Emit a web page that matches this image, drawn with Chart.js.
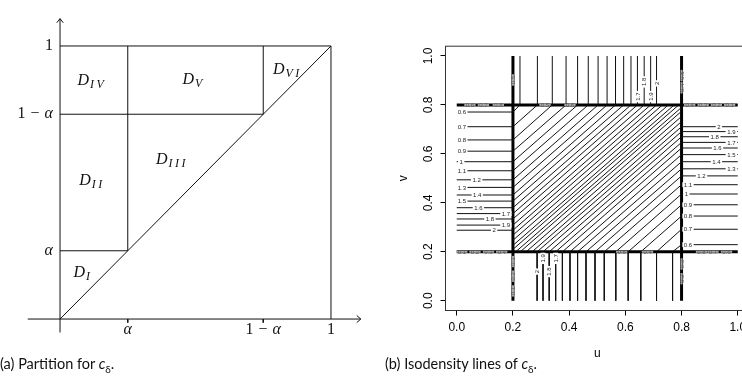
<!DOCTYPE html>
<html lang="en">
<head>
<meta charset="UTF-8">
<title>Partition and isodensity lines of c_delta</title>
<script src="https://cdn.jsdelivr.net/npm/chart.js"></script>
<style>
  html, body { margin: 0; padding: 0; overflow: hidden; background: #fff; }
  body { width: 742px; height: 384px; position: relative; }
  .panel { position: absolute; top: 0; height: 384px; }
  #left { left: 0; width: 371px; }
  #right { left: 371px; width: 400px; }
  .caption { position: absolute; top: 355px; font-family: Lato, sans-serif; font-size: 14.5px; color: #111; white-space: nowrap; }
  .caption sub { font-size: 10px; }
</style>
</head>
<body>
<div class="panel" id="left"><canvas id="partChart"></canvas></div>
<div class="panel" id="right"><canvas id="isoChart"></canvas></div>
<div class="caption" style="left:0">(a) Partition for <i>c</i><sub>δ</sub>.</div>
<div class="caption" style="left:385px">(b) Isodensity lines of <i>c</i><sub>δ</sub>.</div>
<script>
// ---- (a) partition ----
const alpha = 0.25;
const cuts = [0, alpha, 1 - alpha, 1];
const cutLabels = ['α', '1 − α', '1'];
const regionNames = ['I', 'II', 'III', 'IV', 'V', 'VI'];
const regionU = [0.085, 0.118, 0.413, 0.118, 0.493, 0.839];
const regionV = [0.168, 0.504, 0.582, 0.870, 0.874, 0.912];

// ---- (b) isodensity lines ----
const levels = [0.6, 0.7, 0.8, 0.9, 1, 1.1, 1.2, 1.3, 1.4, 1.5, 1.6, 1.7, 1.8, 1.9, 2];
// left strip (u < 0.2): horizontal lines, v of each level
const leftV = [0.771, 0.711, 0.657, 0.611, 0.568, 0.531, 0.494, 0.463, 0.432, 0.407, 0.380, 0.356, 0.334, 0.309, 0.288];
// top strip (v > 0.8): vertical lines, u of each level
const topU = [0.225, 0.287, 0.340, 0.389, 0.430, 0.468, 0.503, 0.535, 0.565, 0.594, 0.620, 0.643, 0.667, 0.690, 0.711];
// right strip (u > 0.8): horizontal lines
const rightV = [0.229, 0.292, 0.346, 0.392, 0.436, 0.474, 0.510, 0.539, 0.568, 0.597, 0.624, 0.647, 0.670, 0.691, 0.711];
// bottom strip (v < 0.2): vertical lines
const bottomU = [0.768, 0.711, 0.655, 0.610, 0.566, 0.525, 0.492, 0.460, 0.430, 0.403, 0.376, 0.352, 0.329, 0.307, 0.286];
// where the labels sit on the strips
const leftLabelU = [0.018, 0.018, 0.018, 0.018, 0.016, 0.018, 0.071, 0.018, 0.073, 0.018, 0.077, 0.175, 0.118, 0.175, 0.133];
const rightLabelU = [0.823, 0.823, 0.823, 0.823, 0.817, 0.823, 0.871, 0.977, 0.924, 0.977, 0.928, 0.977, 0.918, 0.977, 0.933];
const topLabelLevels = [1.7, 1.8, 1.9, 2];
const topLabelV = [0.834, 0.894, 0.834, 0.888];
const bottomLabelLevels = [2, 1.9, 1.8, 1.7];
const bottomLabelV = [0.119, 0.173, 0.119, 0.173];
// unlabelled lines next to the diagonal inside the square
const innerUpperV = [0.268, 0.247, 0.226, 0.210];
const innerUpperU = [0.732, 0.753, 0.774, 0.790];
const innerLowerV = [0.732, 0.753, 0.774, 0.790];
const innerLowerU = [0.268, 0.247, 0.226, 0.210];
const bounds = [0.2, 0.8];
const axisTicks = [0, 0.2, 0.4, 0.6, 0.8, 1];
// small labels along the thick boundary lines: [text, u, v, rotated]
const edgeLabels = [
  ['0.1', 0.018, 0.2, 0], ['0.2', 0.065, 0.2, 0], ['0.3', 0.113, 0.2, 0], ['0.4', 0.16, 0.2, 0],
  ['0.6', 0.047, 0.8, 0], ['0.7', 0.095, 0.8, 0], ['0.8', 0.148, 0.8, 0],
  ['0.4', 0.829, 0.8, 0], ['0.3', 0.877, 0.8, 0], ['0.2', 0.924, 0.8, 0], ['0.1', 0.971, 0.8, 0],
  ['0.8', 0.871, 0.2, 0], ['0.7', 0.912, 0.2, 0], ['0.6', 0.96, 0.2, 0],
  ['0.5', 0.314, 0.8, 0], ['0.6', 0.403, 0.8, 0],
  ['0.5', 0.587, 0.2, 0], ['0.4', 0.679, 0.2, 0],
  ['0.5', 0.2, 0.902, 1], ['0.5', 0.8, 0.92, 1], ['0.4', 0.8, 0.87, 1],
  ['0.3', 0.2, 0.16, 1], ['0.2', 0.2, 0.10, 1], ['0.1', 0.2, 0.04, 1],
  ['0.3', 0.8, 0.15, 1], ['0.2', 0.8, 0.09, 1]
];

function line(points, width, color) {
  return {
    data: points.map(p => ({x: p[0], y: p[1]})),
    showLine: true, borderColor: color || '#111', borderWidth: width || 1,
    pointRadius: 0, fill: false, tension: 0
  };
}

// ---------- chart (a) ----------
const [c0, ca, cb, c1] = cuts;
const partSets = [
  line([[-0.12, 0], [1.11, 0]]),
  line([[0, -0.05], [0, 1.1]]),
  line([[1.095, 0.013], [1.11, 0], [1.095, -0.013]]),
  line([[-0.012, 1.085], [0, 1.1], [0.012, 1.085]]),
  line([[c0, c1], [c1, c1]]),
  line([[c1, c0], [c1, c1]]),
  line([[c0, c0], [c1, c1]]),
  line([[c0, cb], [cb, cb]]),
  line([[ca, ca], [ca, c1]]),
  line([[c0, ca], [ca, ca]]),
  line([[cb, cb], [cb, c1]]),
  line([[ca, 0], [ca, -0.013]]),
  line([[cb, 0], [cb, -0.013]])
];

const partLabels = {
  id: 'partLabels',
  afterDatasetsDraw(chart) {
    const {ctx, scales: {x, y}} = chart;
    ctx.save();
    ctx.fillStyle = '#111';
    const up = '16px "Liberation Serif"';
    const it = 'italic 16px "Liberation Serif"';
    function mixed(text, px, py, align) {
      // split "1 − α" into pieces with math spacing
      const parts = text.split(' ');
      const gap = 5;
      const widths = parts.map(t => { ctx.font = t === 'α' ? it : up; return ctx.measureText(t).width; });
      const total = widths.reduce((a, b) => a + b, 0) + gap * (parts.length - 1);
      let sx = align === 'right' ? px - total : px - total / 2;
      ctx.textAlign = 'left';
      ctx.textBaseline = 'middle';
      parts.forEach((t, i) => {
        ctx.font = t === 'α' ? it : up;
        ctx.fillText(t, sx, py);
        sx += widths[i] + gap;
      });
    }
    const y0 = y.getPixelForValue(0);
    const x0 = x.getPixelForValue(0);
    cutLabels.forEach((t, i) => {
      mixed(t, x.getPixelForValue(cuts[i + 1]), y0 + 11, 'center');
      mixed(t, x0 - 7, y.getPixelForValue(cuts[i + 1]), 'right');
    });
    regionNames.forEach((n, i) => {
      const px = x.getPixelForValue(regionU[i]);
      const py = y.getPixelForValue(regionV[i]);
      ctx.font = 'italic 16px "Liberation Serif"';
      const wd = ctx.measureText('D').width;
      ctx.font = 'italic 12px "Liberation Serif"';
      ctx.letterSpacing = '2.5px';
      const ws = ctx.measureText(n).width;
      const sx = px - (wd + 1 + ws) / 2;
      ctx.textAlign = 'left';
      ctx.textBaseline = 'alphabetic';
      ctx.fillText(n, sx + wd + 1, py + 6.5);
      ctx.letterSpacing = '0px';
      ctx.font = 'italic 16px "Liberation Serif"';
      ctx.fillText('D', sx, py + 3.5);
    });
    ctx.restore();
  }
};

new Chart(document.getElementById('partChart'), {
  type: 'scatter',
  data: {datasets: partSets},
  options: {
    animation: false, responsive: true, maintainAspectRatio: false,
    layout: {padding: {left: 27.5, right: 7.5, top: 13.2, bottom: 51.3}},
    plugins: {legend: {display: false}, tooltip: {enabled: false}},
    scales: {
      x: {type: 'linear', min: -0.12, max: 1.12, display: false},
      y: {type: 'linear', min: -0.05, max: 1.12, display: false}
    }
  },
  plugins: [partLabels]
});

// ---------- chart (b) ----------
const [lo, hi] = bounds;
const isoSets = [];
levels.forEach((lv, i) => {
  isoSets.push(line([[0, leftV[i]], [lo, leftV[i]], [topU[i], hi], [topU[i], 1]]));
  isoSets.push(line([[1, rightV[i]], [hi, rightV[i]], [bottomU[i], lo], [bottomU[i], 0]]));
});
innerUpperV.forEach((v, j) => isoSets.push(line([[lo, v], [innerUpperU[j], hi]])));
innerLowerV.forEach((v, j) => isoSets.push(line([[hi, v], [innerLowerU[j], lo]])));
bounds.forEach(b => {
  isoSets.push(line([[b, 0], [b, 1]], 3, '#000'));
  isoSets.push(line([[0, b], [1, b]], 3, '#000'));
});

const isoDecor = {
  id: 'isoDecor',
  afterDatasetsDraw(chart) {
    const {ctx, chartArea: a, scales: {x, y}} = chart;
    ctx.save();
    ctx.strokeStyle = '#333';
    ctx.lineWidth = 1;
    ctx.strokeRect(a.left, a.top, a.right - a.left, a.bottom - a.top);

    // contour labels
    function tag(text, u, v, rot, color, h, bg) {
      const px = x.getPixelForValue(u);
      const py = y.getPixelForValue(v);
      ctx.save();
      ctx.translate(px, py);
      if (rot) ctx.rotate(-Math.PI / 2);
      ctx.font = '6px "Liberation Sans"';
      const w = ctx.measureText(text).width;
      ctx.fillStyle = bg;
      ctx.fillRect(-w / 2 - 1.5, -h / 2, w + 3, h);
      ctx.fillStyle = color;
      ctx.textAlign = 'center';
      ctx.textBaseline = 'middle';
      ctx.fillText(text, 0, 0.5);
      ctx.restore();
    }
    levels.forEach((lv, i) => {
      tag(String(lv), leftLabelU[i], leftV[i], 0, '#222', 5, '#fff');
      tag(String(lv), rightLabelU[i], rightV[i], 0, '#222', 5, '#fff');
    });
    topLabelLevels.forEach((lv, j) => {
      tag(String(lv), topU[levels.indexOf(lv)], topLabelV[j], 1, '#222', 5, '#fff');
    });
    bottomLabelLevels.forEach((lv, j) => {
      tag(String(lv), bottomU[levels.indexOf(lv)], bottomLabelV[j], 1, '#222', 5, '#fff');
    });
    edgeLabels.forEach(([t, u, v, r]) => tag(t, u, v, r, '#555', 2, '#aaa'));

    // rotated y tick labels (R style)
    ctx.font = '12px "Liberation Sans"';
    ctx.fillStyle = '#000';
    ctx.textAlign = 'center';
    ctx.textBaseline = 'middle';
    axisTicks.forEach(t => {
      ctx.save();
      ctx.translate(a.left - 16.5, y.getPixelForValue(t));
      ctx.rotate(-Math.PI / 2);
      ctx.fillText(t.toFixed(1), 0, 0);
      ctx.restore();
    });
    ctx.restore();
  }
};

const tickFont = {family: 'Liberation Sans', size: 12};
new Chart(document.getElementById('isoChart'), {
  type: 'scatter',
  data: {datasets: isoSets},
  options: {
    animation: false, responsive: true, maintainAspectRatio: false,
    layout: {padding: {left: 0, right: 22, top: 46.2, bottom: 0}},
    plugins: {legend: {display: false}, tooltip: {enabled: false}},
    scales: {
      x: {
        type: 'linear', min: -0.04, max: 1.04,
        afterBuildTicks: s => { s.ticks = axisTicks.map(value => ({value})); },
        afterFit: s => { s.height = 73.5; },
        grid: {drawOnChartArea: false, drawTicks: true, tickLength: 5, color: '#000'},
        border: {display: true, color: '#333', width: 1},
        ticks: {padding: 5, color: '#000', font: tickFont, maxRotation: 0, autoSkip: false,
                callback: v => v.toFixed(1)},
        title: {display: true, text: 'u', color: '#000', font: tickFont, padding: {top: 0, bottom: 22.8}}
      },
      y: {
        type: 'linear', min: -0.04, max: 1.04,
        afterBuildTicks: s => { s.ticks = axisTicks.map(value => ({value})); },
        afterFit: s => { s.width = 74.5; },
        grid: {drawOnChartArea: false, drawTicks: true, tickLength: 5, color: '#000'},
        border: {display: true, color: '#333', width: 1},
        ticks: {display: false},
        title: {display: true, text: 'v', color: '#000', font: tickFont, padding: {top: 25.8, bottom: 0}}
      }
    }
  },
  plugins: [isoDecor]
});
</script>
</body>
</html>
